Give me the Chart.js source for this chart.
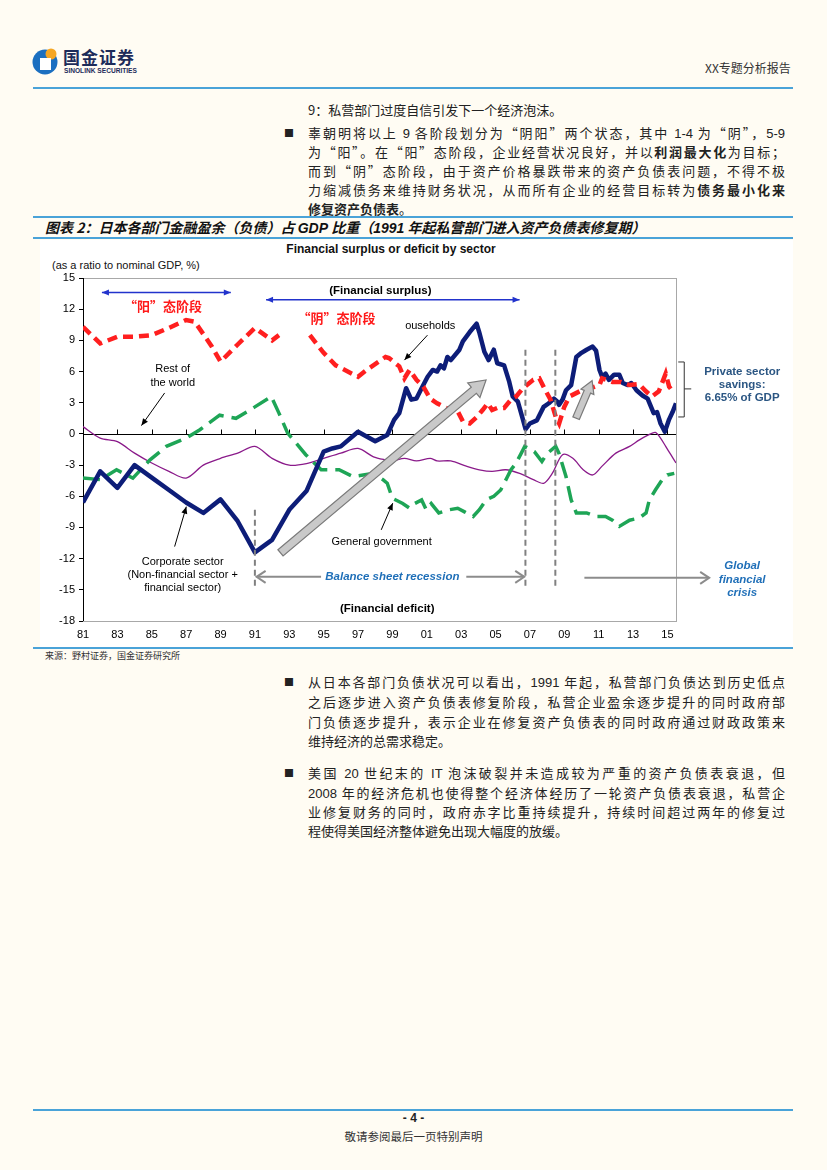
<!DOCTYPE html>
<html><head><meta charset="utf-8">
<script src="https://cdn.jsdelivr.net/npm/chart.js@4.4.1/dist/chart.umd.min.js"></script>
<style>
html,body{margin:0;padding:0;}
body{width:827px;height:1170px;background:#fffcf3;position:relative;overflow:hidden;font-family:"Noto Sans CJK SC","Liberation Sans",sans-serif;color:#222;}
.abs{position:absolute;}
.rule{position:absolute;left:33px;width:760px;height:2px;background:#4aa3d8;}
.ln{position:absolute;left:308px;width:477px;font-size:13px;line-height:19px;height:19px;white-space:nowrap;text-align:justify;text-align-last:justify;}
.ln.last{text-align-last:left;}
.ln b{font-weight:700;}
.bul{position:absolute;left:284px;font-size:10px;line-height:19px;}
.lat{font-family:"Liberation Sans",Arial,sans-serif;}
canvas{display:block;}
</style></head>
<body>
<!-- header -->
<svg class="abs" style="left:32px;top:46px" width="28" height="30" viewBox="0 0 28 30">
  <circle cx="13" cy="16" r="12.5" fill="#1b6fc0"/>
  <circle cx="19" cy="8" r="5.5" fill="#f5a623"/>
  <rect x="8" y="12" width="11" height="12" fill="#ffffff"/>
</svg>
<div class="abs" style="left:63px;top:47px;font-size:17px;font-weight:700;color:#1d2c5a;letter-spacing:1px;line-height:20px;">国金证券</div>
<div class="abs lat" style="left:64px;top:66px;font-size:6.6px;font-weight:700;color:#1d2c5a;line-height:9px;">SINOLINK SECURITIES</div>
<div class="abs" style="left:705px;top:60px;font-size:12px;line-height:16px;color:#333;">XX专题分析报告</div>
<div class="rule" style="top:87px;"></div>

<div class="ln last" style="top:100px;">9：私营部门过度自信引发下一个经济泡沫。</div>
<div class="bul" style="top:123px;">■</div>
<div class="ln" style="top:123px;">辜朝明将以上 <span class="lat">9</span> 各阶段划分为“阴阳”两个状态，其中 <span class="lat">1-4</span> 为“阴”，<span class="lat">5-9</span></div>
<div class="ln" style="top:142px;">为“阳”。在“阳”态阶段，企业经营状况良好，并以<b>利润最大化</b>为目标；</div>
<div class="ln" style="top:161px;">而到“阴”态阶段，由于资产价格暴跌带来的资产负债表问题，不得不极</div>
<div class="ln" style="top:180px;">力缩减债务来维持财务状况，从而所有企业的经营目标转为<b>债务最小化来</b></div>
<div class="ln last" style="top:199px;"><b>修复资产负债表</b>。</div>

<div class="rule" style="top:216px;"></div>
<div class="abs" style="left:45px;top:218px;font-size:14px;line-height:18px;font-weight:700;font-style:italic;color:#111;">图表 2：日本各部门金融盈余（负债）占 <span class="lat">GDP</span> 比重（<span class="lat">1991</span> 年起私营部门进入资产负债表修复期）</div>
<div class="rule" style="top:237px;"></div>

<div class="abs" style="left:40px;top:240px;width:753px;height:407px;background:#ffffff;"></div>
<div class="abs lat" style="left:40px;top:242px;width:702px;text-align:center;font-size:12px;font-weight:700;color:#111;line-height:15px;">Financial surplus or deficit by sector</div>
<div class="abs lat" style="left:52px;top:258px;font-size:11px;color:#111;line-height:14px;">(as a ratio to nominal GDP, %)</div>
<div class="abs" style="left:40px;top:240px;width:760px;height:405px;"><canvas id="c" width="760" height="405" style="width:760px;height:405px;"></canvas></div>

<div class="rule" style="top:647px;"></div>
<div class="abs" style="left:45px;top:650px;font-size:9px;line-height:12px;color:#333;">来源：野村证券，国金证券研究所</div>

<div class="bul" style="top:672px;">■</div>
<div class="ln" style="top:672px;">从日本各部门负债状况可以看出，<span class="lat">1991</span> 年起，私营部门负债达到历史低点</div>
<div class="ln" style="top:692px;">之后逐步进入资产负债表修复阶段，私营企业盈余逐步提升的同时政府部</div>
<div class="ln" style="top:712px;">门负债逐步提升，表示企业在修复资产负债表的同时政府通过财政政策来</div>
<div class="ln last" style="top:731px;">维持经济的总需求稳定。</div>
<div class="bul" style="top:763px;">■</div>
<div class="ln" style="top:763px;">美国 <span class="lat">20</span> 世纪末的 <span class="lat">IT</span> 泡沫破裂并未造成较为严重的资产负债表衰退，但</div>
<div class="ln" style="top:783px;"><span class="lat">2008</span> 年的经济危机也使得整个经济体经历了一轮资产负债表衰退，私营企</div>
<div class="ln" style="top:802px;">业修复财务的同时，政府赤字比重持续提升，持续时间超过两年的修复过</div>
<div class="ln last" style="top:821px;">程使得美国经济整体避免出现大幅度的放缓。</div>

<div class="rule" style="top:1109px;"></div>
<div class="abs lat" style="left:0;width:827px;top:1111px;text-align:center;font-size:12px;font-weight:700;line-height:15px;color:#222;">- 4 -</div>
<div class="abs" style="left:0;width:827px;top:1129px;text-align:center;font-size:11.5px;line-height:15px;color:#333;">敬请参阅最后一页特别声明</div>

<script>
// ---------- data ----------
const tickYears = [1981,1983,1985,1987,1989,1991,1993,1995,1997,1999,2001,2003,2005,2007,2009,2011,2013,2015];
const yTicks = [-18,-15,-12,-9,-6,-3,0,3,6,9,12,15];

const corpYears = [1981,1982,1983,1984,1985,1986,1987,1988,1989,1990,1991,1992,1993,1994,1995,1995.5,1996,1997,1998,1998.7,1999.1,1999.4,1999.8,2000.1,2000.4,2000.7,2001.05,2001.35,2001.6,2001.8,2002.0,2002.2,2002.4,2002.9,2003.1,2003.5,2003.9,2004.05,2004.35,2004.6,2004.9,2005.1,2005.5,2005.8,2006.0,2006.3,2006.6,2006.75,2007.0,2007.4,2007.8,2008.1,2008.4,2008.6,2008.7,2008.9,2009.1,2009.4,2009.7,2010.0,2010.3,2010.65,2010.85,2011.05,2011.2,2011.4,2011.6,2011.9,2012.2,2012.4,2012.7,2012.9,2013.2,2013.55,2013.85,2014.0,2014.2,2014.4,2014.6,2014.85,2015.1,2015.3,2015.5];
const corpValues = [-6.6,-3.6,-5.2,-3.0,-4.2,-5.4,-6.6,-7.6,-6.3,-8.4,-11.4,-10.2,-7.3,-5.5,-1.7,-1.4,-1.2,0.2,-0.7,-0.1,1.35,2.0,4.4,3.3,3.4,4.4,5.5,6.15,6.0,6.6,6.3,7.4,7.1,8.1,8.9,9.8,10.6,9.8,7.9,7.1,8.1,6.8,6.6,5.0,3.6,3.1,1.35,0.45,1.0,1.3,2.6,2.95,3.4,3.1,2.8,3.3,4.2,4.7,7.4,7.8,8.1,8.4,8.0,6.15,5.5,5.8,5.2,5.7,5.7,4.9,4.7,4.9,4.2,3.7,3.4,2.8,2.0,2.1,1.0,0.2,1.4,2.1,2.95];

const hhYears = [1981,1982,1983,1984,1985,1986,1987,1987.5,1988.5,1989,1990,1991,1992,1992.4,1993,1994.2,1995,1995.7,1997,1997.5,1998.6,1998.8,1999.4,1999.7,2000.0,2000.4,2000.8,2001.2,2001.6,2002.0,2002.4,2002.7,2003.1,2003.5,2003.9,2004.25,2004.55,2004.8,2005.1,2005.5,2005.9,2006.2,2006.6,2007.2,2007.55,2007.9,2008.2,2008.5,2008.7,2009.0,2009.3,2009.9,2010.55,2011.05,2011.2,2011.8,2012.3,2012.8,2013.35,2013.75,2014.1,2014.5,2014.9,2015.1,2015.4];
const hhValues = [10.3,8.7,9.35,9.35,9.5,10.2,10.96,10.8,8.4,6.95,8.6,10.2,9.0,9.5,null,9.5,7.8,6.6,5.5,6.15,7.4,7.3,6.5,5.35,6.15,5.2,4.55,3.4,2.95,2.6,2.3,2.5,1.2,1.0,1.6,2.3,2.95,2.3,2.5,2.5,3.3,3.6,4.4,5.2,5.35,4.2,3.3,1.65,1.0,2.6,3.6,4.1,4.4,4.7,5.35,5.0,5.0,4.7,4.8,4.1,3.6,4.1,5.8,4.55,3.9];

const govYears = [1981,1982,1982.95,1983.9,1984.9,1985.85,1987.0,1987.8,1988.95,1989.9,1991.0,1991.95,1992.4,1992.9,1993.96,1994.86,1995.3,1995.9,1996.7,1997.3,1997.9,1998.45,1998.7,1999.0,1999.6,2000.0,2000.3,2000.7,2000.97,2001.26,2001.7,2002.3,2002.8,2003.2,2003.7,2004.06,2004.45,2004.9,2005.3,2005.7,2005.9,2006.2,2006.5,2006.7,2007.26,2007.7,2008.0,2008.5,2008.7,2009.1,2009.4,2009.7,2010.3,2010.85,2011.4,2011.8,2012.2,2012.8,2013.35,2013.76,2013.95,2014.3,2014.7,2015.0,2015.4];
const govValues = [-4.25,-4.4,-3.45,-4.25,-2.5,-1.2,-0.4,0.4,1.8,1.5,2.6,3.6,2.0,0.1,-2.0,-3.45,-3.45,-3.45,-4.1,-3.95,-3.8,-4.4,-4.75,-6.2,-6.7,-7.15,-6.7,-6.35,-7.3,-6.7,-7.6,-7.3,-7.15,-7.5,-7.95,-7.3,-6.35,-6.0,-5.4,-4.1,-3.45,-2.8,-1.85,-1.2,-1.7,-2.65,-1.9,-1.2,-1.9,-4.1,-6.35,-7.6,-7.6,-7.95,-7.95,-8.3,-8.9,-8.3,-8.1,-7.6,-6.35,-5.4,-4.4,-3.95,-3.8];

const rowYears = [1981,1982,1983,1984,1985,1986,1987,1988,1989,1990,1991,1992,1993,1994,1995,1996,1997,1997.9,1998.6,1999.0,1999.7,2000.4,2001.2,2001.6,2002.4,2003.3,2004.06,2004.8,2005.6,2006.4,2007.2,2007.8,2008.3,2008.9,2009.5,2010.1,2010.65,2011.2,2012.0,2012.8,2013.35,2013.9,2014.3,2014.6,2014.9,2015.2,2015.5];
const rowValues = [0.7,-0.4,-0.75,-1.85,-2.8,-3.6,-4.25,-3.0,-2.35,-1.85,-1.2,-2.35,-3.0,-2.85,-2.35,-1.85,-1.4,-2.2,-2.5,-2.6,-2.35,-2.6,-2.35,-2.6,-2.6,-3.1,-3.45,-3.6,-3.45,-3.8,-4.4,-4.75,-3.8,-2.0,-2.35,-3.45,-3.95,-3.1,-1.85,-1.2,-0.6,-0.1,0.15,-0.4,-1.2,-2.0,-2.8];

const recessionLines = [1991.0, 2006.74, 2008.48];

const pts = (xs, ys) => xs.map((x, i) => ({x, y: ys[i]}));

// ---------- drawing helpers ----------
function lineArrow(ctx, x1, y1, x2, y2, color, w, hl, hw, both) {
  ctx.strokeStyle = color; ctx.fillStyle = color; ctx.lineWidth = w; ctx.setLineDash([]);
  ctx.beginPath(); ctx.moveTo(x1, y1); ctx.lineTo(x2, y2); ctx.stroke();
  const head = (ax, ay, bx, by) => {
    const a = Math.atan2(by - ay, bx - ax);
    ctx.beginPath();
    ctx.moveTo(bx, by);
    ctx.lineTo(bx - hl * Math.cos(a) + hw * Math.sin(a), by - hl * Math.sin(a) - hw * Math.cos(a));
    ctx.lineTo(bx - hl * Math.cos(a) - hw * Math.sin(a), by - hl * Math.sin(a) + hw * Math.cos(a));
    ctx.closePath(); ctx.fill();
  };
  head(x1, y1, x2, y2);
  if (both) head(x2, y2, x1, y1);
}
function openArrow(ctx, x1, y1, x2, y2, color, w, hl, hw) {
  ctx.strokeStyle = color; ctx.lineWidth = w; ctx.setLineDash([]);
  ctx.beginPath(); ctx.moveTo(x1, y1); ctx.lineTo(x2, y2); ctx.stroke();
  const a = Math.atan2(y2 - y1, x2 - x1);
  ctx.beginPath();
  ctx.moveTo(x2 - hl * Math.cos(a) + hw * Math.sin(a), y2 - hl * Math.sin(a) - hw * Math.cos(a));
  ctx.lineTo(x2, y2);
  ctx.lineTo(x2 - hl * Math.cos(a) - hw * Math.sin(a), y2 - hl * Math.sin(a) + hw * Math.cos(a));
  ctx.stroke();
}
function blockArrow(ctx, x1, y1, x2, y2, sw, hl, hw) {
  const a = Math.atan2(y2 - y1, x2 - x1), c = Math.cos(a), s = Math.sin(a);
  const L = Math.hypot(x2 - x1, y2 - y1) - hl;
  const P = (u, v) => [x1 + u * c - v * s, y1 + u * s + v * c];
  const poly = [P(0, -sw / 2), P(L, -sw / 2), P(L, -hw / 2), P(L + hl, 0), P(L, hw / 2), P(L, sw / 2), P(0, sw / 2)];
  ctx.beginPath(); ctx.moveTo(...poly[0]); poly.slice(1).forEach(p => ctx.lineTo(...p)); ctx.closePath();
  ctx.fillStyle = '#c9c9c9'; ctx.fill();
  ctx.strokeStyle = '#7a7a7a'; ctx.lineWidth = 1.2; ctx.setLineDash([]); ctx.stroke();
}
function txt(ctx, s, x, y, font, color, align) {
  ctx.font = font; ctx.fillStyle = color; ctx.textAlign = align || 'center'; ctx.textBaseline = 'middle';
  ctx.fillText(s, x, y);
}

const framePlugin = {
  id: 'frame',
  beforeDatasetsDraw(chart) {
    const {ctx, chartArea: a, scales: {x, y}} = chart;
    ctx.save();
    ctx.strokeStyle = '#a8a8a8'; ctx.lineWidth = 1;
    ctx.strokeRect(a.left + 0.5, a.top + 0.5, a.right - a.left, a.bottom - a.top);
    ctx.strokeStyle = '#000'; ctx.beginPath();
    ctx.moveTo(a.left + 0.5, a.top); ctx.lineTo(a.left + 0.5, a.bottom); ctx.stroke();
    const y0 = Math.round(y.getPixelForValue(0)) + 0.5;
    ctx.beginPath(); ctx.moveTo(a.left, y0); ctx.lineTo(a.right, y0);
    tickYears.slice(1).forEach(t => { const px = Math.round(x.getPixelForValue(t)) + 0.5; ctx.moveTo(px, y0); ctx.lineTo(px, y0 - 5); });
    ctx.stroke();
    ctx.restore();
  }
};

const annotPlugin = {
  id: 'annot',
  afterDatasetsDraw(chart) {
    const {ctx, scales: {x, y}} = chart;
    const X = v => x.getPixelForValue(v), Y = v => y.getPixelForValue(v);
    ctx.save();
    const cn = 'bold 13px "Noto Sans CJK SC"';
    const ar = '11px "Liberation Sans", Arial, sans-serif';
    const arb = 'bold 11.5px "Liberation Sans", Arial, sans-serif';
    const arbi = 'italic bold 11.5px "Liberation Sans", Arial, sans-serif';
    // regime arrows
    lineArrow(ctx, X(1982.1), Y(13.6), X(1989.6), Y(13.6), '#2233cc', 1.5, 7, 3, true);
    txt(ctx, '“阳”态阶段', X(1985.65), Y(12.3), cn, '#ff1a1a');
    lineArrow(ctx, X(1991.65), Y(12.9), X(2006.4), Y(12.9), '#2233cc', 1.5, 7, 3, true);
    txt(ctx, '(Financial surplus)', X(1998.3), Y(13.8), arb, '#000');
    txt(ctx, '“阴”态阶段', X(1995.75), Y(11.15), cn, '#ff1a1a');
    // series labels
    txt(ctx, 'ouseholds', X(2001.2), Y(10.4), ar, '#000');
    lineArrow(ctx, X(2001.04), Y(9.5), X(1999.7), Y(7.1), '#000', 1, 7, 3);
    txt(ctx, 'Rest of', X(1986.22), Y(6.25), ar, '#000');
    txt(ctx, 'the world', X(1986.22), Y(4.9), ar, '#000');
    lineArrow(ctx, X(1985.75), Y(3.94), X(1984.4), Y(0.8), '#000', 1, 7, 3);
    txt(ctx, 'Corporate sector', X(1986.8), Y(-12.3), ar, '#000');
    txt(ctx, '(Non-financial sector +', X(1986.8), Y(-13.55), ar, '#000');
    txt(ctx, 'financial sector)', X(1986.8), Y(-14.8), ar, '#000');
    lineArrow(ctx, X(1986.33), Y(-10.84), X(1987.01), Y(-7.0), '#000', 1, 7, 3);
    txt(ctx, 'General government', X(1998.37), Y(-10.4), ar, '#000');
    lineArrow(ctx, X(1998.35), Y(-9.23), X(1999.02), Y(-6.66), '#000', 1, 7, 3);
    // recession markers
    ctx.strokeStyle = '#808080'; ctx.lineWidth = 2; ctx.setLineDash([6, 4]);
    ctx.beginPath();
    ctx.moveTo(X(recessionLines[0]), Y(-7.3)); ctx.lineTo(X(recessionLines[0]), Y(-15.0));
    ctx.moveTo(X(recessionLines[1]), Y(8.1)); ctx.lineTo(X(recessionLines[1]), Y(-14.8));
    ctx.moveTo(X(recessionLines[2]), Y(8.1)); ctx.lineTo(X(recessionLines[2]), Y(-14.8));
    ctx.stroke(); ctx.setLineDash([]);
    // big grey arrows
    blockArrow(ctx, X(1992.49), Y(-11.44), X(2004.45), Y(5.19), 8, 16, 19);
    blockArrow(ctx, X(2009.69), Y(1.51), X(2010.62), Y(5.12), 7, 12, 14);
    // balance sheet recession
    txt(ctx, 'Balance sheet recession', X(1999.0), Y(-13.75), arbi, '#1f6fb8');
    openArrow(ctx, X(1994.85), Y(-13.75), X(1991.1), Y(-13.75), '#8c8c8c', 2, 9, 6);
    openArrow(ctx, X(2003.3), Y(-13.75), X(2006.67), Y(-13.75), '#8c8c8c', 2, 9, 6);
    openArrow(ctx, X(2010.17), Y(-13.85), X(2017.43), Y(-13.85), '#8c8c8c', 2, 9, 6);
    txt(ctx, 'Global', X(2019.35), Y(-12.7), arbi, '#1f6fb8');
    txt(ctx, 'financial', X(2019.35), Y(-14.0), arbi, '#1f6fb8');
    txt(ctx, 'crisis', X(2019.35), Y(-15.3), arbi, '#1f6fb8');
    txt(ctx, '(Financial deficit)', X(1998.7), Y(-16.8), arb, '#000');
    // bracket + private savings
    ctx.strokeStyle = '#333'; ctx.lineWidth = 1;
    const bx0 = X(2015.63), bx1 = bx0 + 6, yt = Y(6.92), yb = Y(1.63), ym = Y(4.33);
    ctx.beginPath();
    ctx.moveTo(bx0, yt); ctx.lineTo(bx1, yt); ctx.lineTo(bx1, yb); ctx.lineTo(bx0, yb);
    ctx.moveTo(bx1, ym); ctx.lineTo(bx1 + 7, ym);
    ctx.stroke();
    txt(ctx, 'Private sector', X(2019.35), Y(5.96), arb, '#2b5683');
    txt(ctx, 'savings:', X(2019.35), Y(4.71), arb, '#2b5683');
    txt(ctx, '6.65% of GDP', X(2019.35), Y(3.46), arb, '#2b5683');
    ctx.restore();
  }
};

new Chart(document.getElementById('c'), {
  type: 'line',
  data: {
    datasets: [
      {label: 'Households', data: pts(hhYears, hhValues), borderColor: '#ff1f1f', borderWidth: 4.5, borderDash: [10, 6], pointRadius: 0, spanGaps: false, borderCapStyle: 'butt'},
      {label: 'Corporate sector', data: pts(corpYears, corpValues), borderColor: '#0d1d78', borderWidth: 4.5, pointRadius: 0, borderJoinStyle: 'round'},
      {label: 'General government', data: pts(govYears, govValues), borderColor: '#1ea556', borderWidth: 3.5, borderDash: [17, 8], pointRadius: 0},
      {label: 'Rest of the world', data: pts(rowYears, rowValues), borderColor: '#8a1a8a', borderWidth: 1.3, pointRadius: 0, tension: 0.3}
    ]
  },
  options: {
    responsive: false, maintainAspectRatio: false, animation: false, devicePixelRatio: 1,
    layout: {padding: {top: 38, right: 124, left: 0, bottom: 0}},
    plugins: {legend: {display: false}, tooltip: {enabled: false}, title: {display: false}},
    scales: {
      x: {
        type: 'linear', min: 1981, max: 2015.5,
        afterBuildTicks: s => { s.ticks = tickYears.map(v => ({value: v})); },
        afterFit: s => { s.height = 24; },
        grid: {display: false, drawTicks: false}, border: {display: false},
        ticks: {autoSkip: false, maxRotation: 0, padding: 7, color: '#000', font: {size: 11, family: '"Liberation Sans", Arial, sans-serif'},
          callback: v => String(v % 100).padStart(2, '0')}
      },
      y: {
        min: -18, max: 15,
        afterBuildTicks: s => { s.ticks = yTicks.map(v => ({value: v})); },
        afterFit: s => { s.width = 43; },
        grid: {drawOnChartArea: false, drawTicks: true, tickLength: 4, color: '#000'},
        border: {display: true, color: '#000'},
        ticks: {padding: 4, color: '#000', font: {size: 11, family: '"Liberation Sans", Arial, sans-serif'}}
      }
    }
  },
  plugins: [framePlugin, annotPlugin]
});
</script>
</body></html>
